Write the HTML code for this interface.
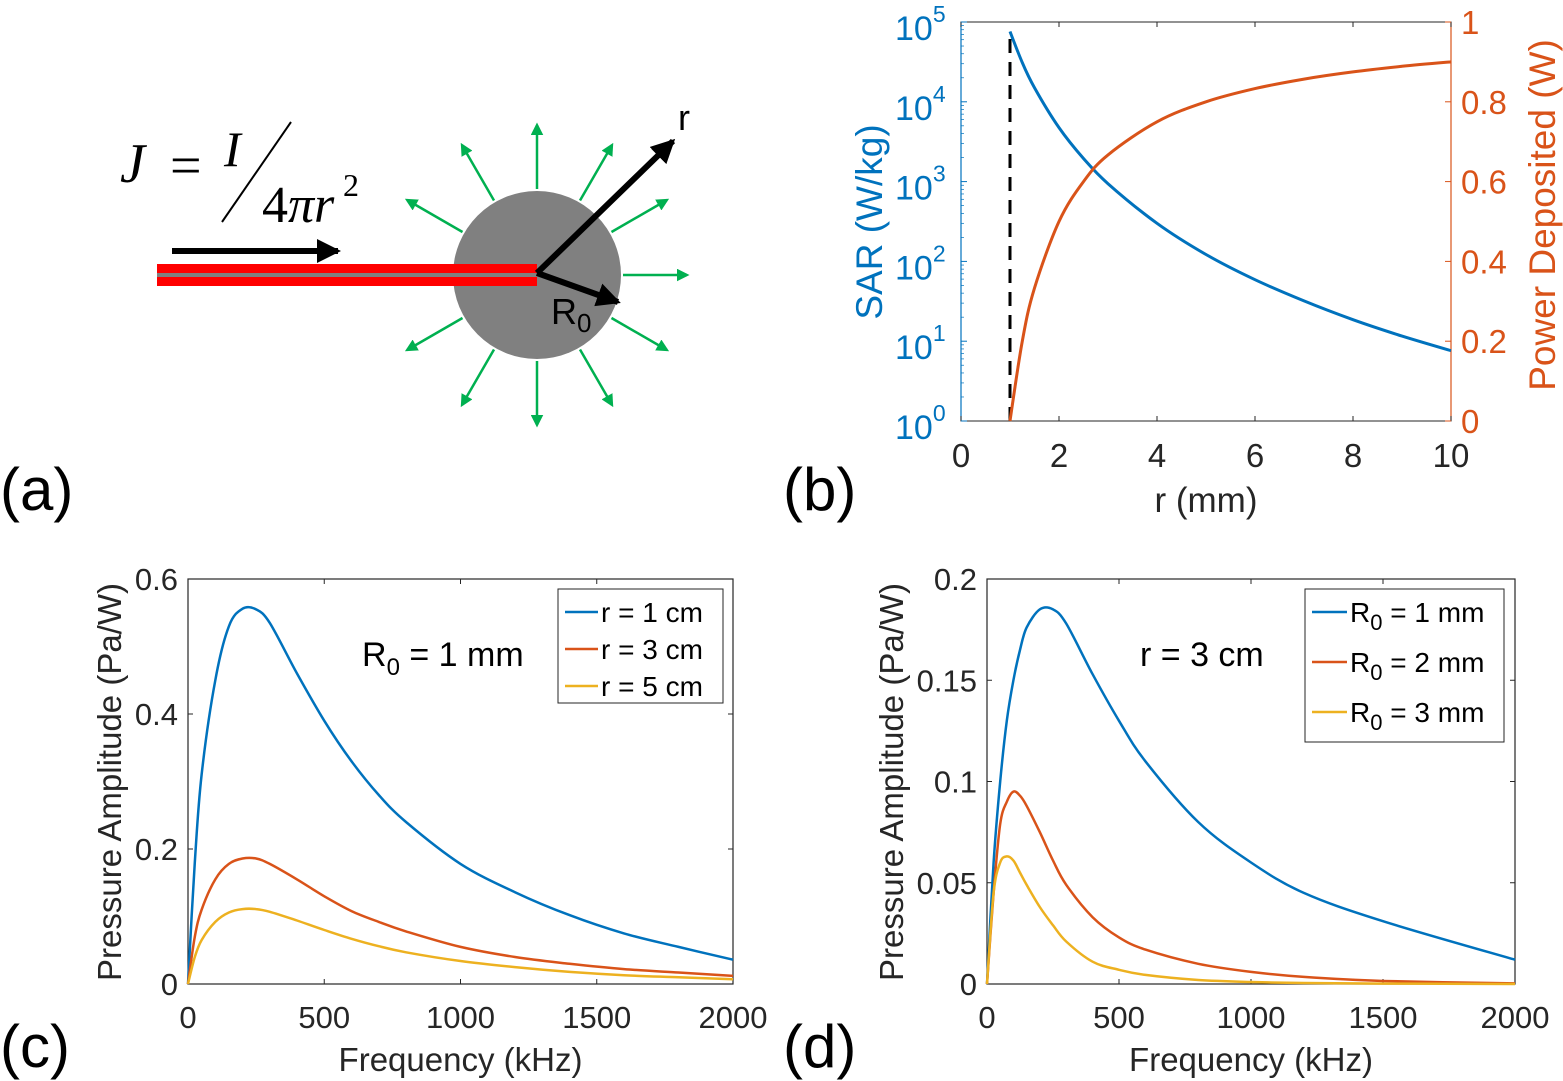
<!DOCTYPE html>
<html><head><meta charset="utf-8"><style>
html,body{margin:0;padding:0;background:#fff}
svg{display:block;font-family:"Liberation Sans",sans-serif}
</style></head><body>
<svg id="fig" width="1563" height="1081" viewBox="0 0 1563 1081" xmlns="http://www.w3.org/2000/svg">
<defs>
<marker id="hb" markerWidth="4" markerHeight="4" refX="3.5" refY="2" orient="auto" markerUnits="strokeWidth"><path d="M0,0 L4,2 L0,4 z" fill="#000"/></marker>
<marker id="hg" markerWidth="5" markerHeight="5" refX="4" refY="2.5" orient="auto" markerUnits="strokeWidth"><path d="M0,0 L5,2.5 L0,5 z" fill="#00B050"/></marker>
</defs>
<g>
<g id="greenArrows"></g>
<circle cx="537" cy="275" r="84" fill="#808080"/>
<rect x="157" y="264" width="380" height="9" fill="#ff0000"/>
<rect x="157" y="273" width="380" height="4" fill="#808080"/>
<rect x="157" y="277" width="380" height="9" fill="#ff0000"/>
<line x1="172" y1="251" x2="338" y2="251" stroke="#000" stroke-width="6" marker-end="url(#hb)"/>
<line x1="537" y1="273" x2="673" y2="141" stroke="#000" stroke-width="6" marker-end="url(#hb)"/>
<line x1="537" y1="273" x2="618" y2="302" stroke="#000" stroke-width="6" marker-end="url(#hb)"/>
<text x="678" y="130" font-size="36">r</text>
<text x="551" y="324" font-size="36">R<tspan font-size="26" dy="8">0</tspan></text>
<g font-family="'Liberation Serif',serif">
<text x="120" y="182" font-size="56" font-style="italic">J</text>
<text x="170" y="184" font-size="56">=</text>
<text x="224" y="166" font-size="50" font-style="italic">I</text>
<line x1="222" y1="222" x2="291" y2="122" stroke="#000" stroke-width="2"/>
<text x="262" y="222" font-size="52">4<tspan font-style="italic">πr</tspan></text>
<text x="343" y="196" font-size="32">2</text>
</g>
</g>
<text x="0" y="510" font-size="60">(a)</text>
<text x="783" y="510" font-size="60">(b)</text>
<text x="0" y="1067" font-size="60">(c)</text>
<text x="783" y="1067" font-size="60">(d)</text>
<g id="pb"></g>
<g id="pc"></g>
<g id="pd"></g>
</svg>
<script>
// ---- panel b data ----
const bR = [1,1.25,1.5,2,2.5,3,4,5,6,7,8,9,10];
const bSAR = [76000,31000,15000,4750,1950,940,300,122,59,32,18.6,11.6,7.6];
const bPower = [0,0.2,0.333,0.5,0.6,0.667,0.75,0.8,0.833,0.857,0.875,0.889,0.9];
const bXTicks = [0,2,4,6,8,10];
const bYExp = [0,1,2,3,4,5];
const bPTicks = [0,0.2,0.4,0.6,0.8,1];
const bPLabels = ["0","0.2","0.4","0.6","0.8","1"];
// ---- panel c data ----
const cFreq = [0,25,50,100,150,200,250,300,400,500,600,700,800,1000,1200,1400,1600,1800,2000];
const cR1 = [0,0.18,0.31,0.45,0.53,0.556,0.555,0.535,0.46,0.39,0.33,0.28,0.24,0.178,0.136,0.102,0.075,0.055,0.036];
const cR3 = [0,0.07,0.11,0.155,0.178,0.186,0.186,0.178,0.155,0.13,0.108,0.092,0.078,0.055,0.04,0.03,0.022,0.017,0.012];
const cR5 = [0,0.04,0.065,0.092,0.106,0.111,0.111,0.107,0.094,0.08,0.067,0.056,0.047,0.034,0.025,0.018,0.013,0.01,0.007];
const cYTicks = [0,0.2,0.4,0.6];
const cYLabels = ["0","0.2","0.4","0.6"];
const cdXTicks = [0,500,1000,1500,2000];
// ---- panel d data ----
const dFreq = [0,25,50,75,100,125,150,200,250,300,400,500,600,800,1000,1200,1500,2000];
const dA1 = [0,0.06,0.10,0.13,0.15,0.165,0.176,0.185,0.185,0.178,0.153,0.13,0.11,0.08,0.06,0.045,0.031,0.012];
const dA2 = [0,0.045,0.079,0.09,0.095,0.093,0.088,0.075,0.061,0.049,0.033,0.023,0.017,0.010,0.006,0.0035,0.0015,0.0003];
const dA3 = [0,0.045,0.060,0.063,0.061,0.055,0.049,0.038,0.029,0.021,0.011,0.007,0.0045,0.002,0.001,0.0005,0.0002,0];
const dYTicks = [0,0.05,0.1,0.15,0.2];
const dYLabels = ["0","0.05","0.1","0.15","0.2"];

const NS = "http://www.w3.org/2000/svg";
const BLUE="#0072BD", ORANGE="#D95319", YELLOW="#EDB120";
function mk(tag, attrs, parent){const e=document.createElementNS(NS,tag);for(const k in attrs)e.setAttribute(k,attrs[k]);parent.appendChild(e);return e;}
function smooth(pts){
  let d="M"+pts[0][0].toFixed(1)+","+pts[0][1].toFixed(1);
  for(let i=0;i<pts.length-1;i++){
    const p0=pts[i-1]||pts[i],p1=pts[i],p2=pts[i+1],p3=pts[i+2]||p2;
    const c1=[p1[0]+(p2[0]-p0[0])/6,p1[1]+(p2[1]-p0[1])/6];
    const c2=[p2[0]-(p3[0]-p1[0])/6,p2[1]-(p3[1]-p1[1])/6];
    d+=" C"+c1[0].toFixed(1)+","+c1[1].toFixed(1)+" "+c2[0].toFixed(1)+","+c2[1].toFixed(1)+" "+p2[0].toFixed(1)+","+p2[1].toFixed(1);
  }
  return d;
}

(function(){
  const g=document.getElementById('greenArrows');
  for(let k=0;k<12;k++){
    const a=k*Math.PI/6;
    const l=mk('line',{x1:537+86*Math.cos(a),y1:275-86*Math.sin(a),x2:537+150*Math.cos(a),y2:275-150*Math.sin(a),stroke:"#00B050","stroke-width":2.5,"marker-end":"url(#hg)"},g);
    
    
  }
})();

(function(){
  const g=document.getElementById('pb');
  const L=961,R=1451,T=22,B=421;
  const x=v=>L+(v-0)/10*(R-L);
  const yl=v=>B-(Math.log10(v)-0)/5*(B-T);
  const yp=v=>B-v*(B-T);
  const f=mk('rect',{x:L,y:T,width:R-L,height:B-T,fill:"none",stroke:"#262626","stroke-width":1},g);
  
  mk('line',{x1:L,y1:T,x2:L,y2:B,stroke:BLUE,"stroke-width":1.2},g);
  mk('line',{x1:R,y1:T,x2:R,y2:B,stroke:ORANGE,"stroke-width":1.2},g);
  bXTicks.forEach(v=>{
    mk('line',{x1:x(v),y1:B,x2:x(v),y2:B-5,stroke:"#262626"},g);
    mk('line',{x1:x(v),y1:T,x2:x(v),y2:T+5,stroke:"#262626"},g);
    const t=mk('text',{x:x(v),y:B+46,"font-size":33,"text-anchor":"middle",fill:"#262626"},g);t.textContent=v;
    
  });
  bYExp.forEach(e=>{
    const yy=yl(Math.pow(10,e));
    mk('line',{x1:L,y1:yy,x2:L+6,y2:yy,stroke:BLUE},g);
    for(let m=2;m<10&&e<5;m++){const ym=yl(m*Math.pow(10,e));mk('line',{x1:L,y1:ym,x2:L+3,y2:ym,stroke:BLUE,"stroke-width":0.7},g);}
    const t=mk('text',{x:L-66,y:yy+18,"font-size":34,fill:BLUE},g);
    t.innerHTML='10<tspan font-size="23" dy="-18">'+e+'</tspan>';
    
  });
  bPTicks.forEach((v,i)=>{
    mk('line',{x1:R,y1:yp(v),x2:R-6,y2:yp(v),stroke:ORANGE},g);
    const t=mk('text',{x:R+10,y:yp(v)+12,"font-size":33,fill:ORANGE},g);t.textContent=bPLabels[i];
    
  });
  const dash=mk('line',{x1:x(bR[0]),y1:B,x2:x(bR[0]),y2:yl(bSAR[0]),stroke:"#000","stroke-width":3,"stroke-dasharray":"14,9"},g);
  
  const s1=mk('path',{d:smooth(bR.map((r,i)=>[x(r),yl(bSAR[i])])),fill:"none",stroke:BLUE,"stroke-width":3},g);
  
  const s2=mk('path',{d:smooth(bR.map((r,i)=>[x(r),yp(bPower[i])])),fill:"none",stroke:ORANGE,"stroke-width":3},g);
  
  const xt=mk('text',{x:(L+R)/2,y:512,"font-size":35,"text-anchor":"middle",fill:"#262626"},g);xt.textContent="r (mm)";
  
  const yt=mk('text',{x:0,y:0,"font-size":37,"text-anchor":"middle",fill:BLUE,transform:"translate(882,222) rotate(-90)"},g);yt.textContent="SAR (W/kg)";
  
  const yt2=mk('text',{x:0,y:0,"font-size":37,"text-anchor":"middle",fill:ORANGE,transform:"translate(1555,215) rotate(-90)"},g);yt2.textContent="Power Deposited (W)";
  
})();

function freqPanel(id,L,R,ymax,yTicks,yLabels,xs,series,titleX,ann,legend){
  const g=document.getElementById(id);
  const T=579,B=984;
  const x=v=>L+v/2000*(R-L);
  const y=v=>B-v/ymax*(B-T);
  const f=mk('rect',{x:L,y:T,width:R-L,height:B-T,fill:"none",stroke:"#262626","stroke-width":1.2},g);
  
  cdXTicks.forEach(v=>{
    mk('line',{x1:x(v),y1:B,x2:x(v),y2:B-5,stroke:"#262626"},g);
    mk('line',{x1:x(v),y1:T,x2:x(v),y2:T+5,stroke:"#262626"},g);
    const t=mk('text',{x:x(v),y:1028,"font-size":31,"text-anchor":"middle",fill:"#262626"},g);t.textContent=v;
    
  });
  yTicks.forEach((v,i)=>{
    mk('line',{x1:L,y1:y(v),x2:L+5,y2:y(v),stroke:"#262626"},g);
    mk('line',{x1:R,y1:y(v),x2:R-5,y2:y(v),stroke:"#262626"},g);
    const t=mk('text',{x:L-10,y:y(v)+11,"font-size":31,"text-anchor":"end",fill:"#262626"},g);t.textContent=yLabels[i];
    
  });
  series.forEach(s=>{
    const p=mk('path',{d:smooth(xs.map((f,i)=>[x(f),y(s.v[i])])),fill:"none",stroke:s.c,"stroke-width":2.5},g);
    
  });
  const xt=mk('text',{x:(L+R)/2,y:1071,"font-size":33,"text-anchor":"middle",fill:"#262626"},g);xt.textContent="Frequency (kHz)";
  
  const yt=mk('text',{x:0,y:0,"font-size":33,"text-anchor":"middle",fill:"#262626",transform:"translate("+titleX+",782) rotate(-90)"},g);yt.textContent="Pressure Amplitude (Pa/W)";
  
  const a=mk('text',{x:ann.x,y:666,"font-size":34,fill:"#000"},g);a.innerHTML=ann.h;
  
  const lg=mk('g',{},g);
  
  mk('rect',{x:legend.x,y:589,width:legend.w,height:legend.h,fill:"#fff",stroke:"#262626","stroke-width":1},lg);
  series.forEach((s,i)=>{
    const yy=612+i*legend.dy;
    mk('line',{x1:legend.x+7,y1:yy,x2:legend.x+legend.lw,y2:yy,stroke:s.c,"stroke-width":2.5},lg);
    const t=mk('text',{x:legend.x+legend.lw+3,y:yy+10,"font-size":28,fill:"#000"},lg);t.innerHTML=s.label;
    
  });
}
freqPanel('pc',188,733,0.6,cYTicks,cYLabels,cFreq,
  [{v:cR1,c:BLUE,n:'series-r-1cm',label:'r = 1 cm'},{v:cR3,c:ORANGE,n:'series-r-3cm',label:'r = 3 cm'},{v:cR5,c:YELLOW,n:'series-r-5cm',label:'r = 5 cm'}],
  121,{x:362,h:'R<tspan font-size="24" dy="9">0</tspan><tspan dy="-9"> = 1 mm</tspan>'},
  {x:558,w:165,h:114,dy:37,lw:40});
freqPanel('pd',987,1515,0.2,dYTicks,dYLabels,dFreq,
  [{v:dA1,c:BLUE,n:'series-r0-1mm',label:'R<tspan font-size="22" dy="8">0</tspan><tspan dy="-8"> = 1 mm</tspan>'},{v:dA2,c:ORANGE,n:'series-r0-2mm',label:'R<tspan font-size="22" dy="8">0</tspan><tspan dy="-8"> = 2 mm</tspan>'},{v:dA3,c:YELLOW,n:'series-r0-3mm',label:'R<tspan font-size="22" dy="8">0</tspan><tspan dy="-8"> = 3 mm</tspan>'}],
  903,{x:1140,h:'r = 3 cm'},
  {x:1305,w:199,h:153,dy:50,lw:42});
</script>
</body></html>
